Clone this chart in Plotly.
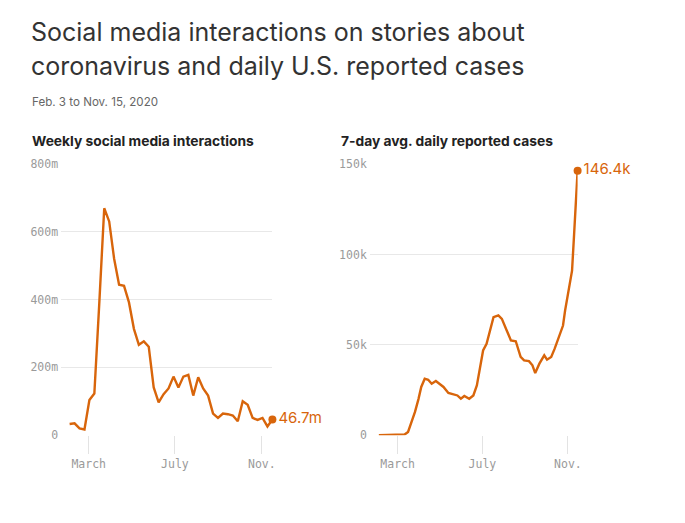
import plotly.graph_objects as go
import pandas as pd

# ---- data ----
social_start = "2020-02-03"
social_values_m = [33, 35, 20, 17, 104, 123, 390, 670, 631, 521, 444, 441, 392, 314,
                   267, 277, 261, 141, 97, 121, 138, 173, 141, 173, 178, 117, 171, 138,
                   117, 64, 51, 64, 62, 58, 41, 100, 90, 51, 45, 51, 26, 46.7]
social_dates = list(pd.date_range(social_start, periods=len(social_values_m), freq="7D"))

case_dates = ["2020-02-03", "2020-03-11", "2020-03-16", "2020-03-20", "2020-03-26", "2020-03-31",
              "2020-04-04", "2020-04-09", "2020-04-14", "2020-04-19", "2020-04-25", "2020-05-01",
              "2020-05-06", "2020-05-13", "2020-05-19", "2020-05-26", "2020-05-31", "2020-06-05",
              "2020-06-12", "2020-06-18", "2020-06-23", "2020-06-27", "2020-07-02", "2020-07-07",
              "2020-07-11", "2020-07-17", "2020-07-24", "2020-07-29", "2020-08-05", "2020-08-11",
              "2020-08-18", "2020-08-25", "2020-08-30", "2020-09-06", "2020-09-11", "2020-09-15",
              "2020-09-21", "2020-09-28", "2020-10-02", "2020-10-08", "2020-10-13", "2020-10-20",
              "2020-10-25", "2020-10-28", "2020-11-02", "2020-11-07", "2020-11-10", "2020-11-13",
              "2020-11-15"]
case_values_k = [0, 0.4, 1.8, 6.4, 12.9, 20, 26.7, 31.3, 30.7, 28.5, 30, 28.2, 26.7, 23.4, 22.6,
                 22, 20.2, 21.7, 20.2, 22, 27.6, 35.9, 46.9, 50.6, 56, 65.3, 66.3, 64.4, 58, 52.5,
                 52, 43.3, 41.4, 41, 38.7, 34.4, 39.6, 44.2, 41.8, 43.3, 47.9, 55.2, 60.7, 69,
                 79.1, 91.1, 111.4, 131.6, 146.4]

left_ticks = [0, 200, 400, 600, 800]
left_ticktext = ["0", "200m", "400m", "600m", "800m"]
right_ticks = [0, 50, 100, 150]
right_ticktext = ["0", "50k", "100k", "150k"]
x_ticks = ["2020-03-01", "2020-07-01", "2020-11-01"]
x_ticktext = ["March", "July", "Nov."]

title_lines = ["Social media interactions on stories about",
               "coronavirus and daily U.S. reported cases"]
subtitle = "Feb. 3 to Nov. 15, 2020"
panel_titles = ["Weekly social media interactions", "7-day avg. daily reported cases"]

ORANGE = "#d8650b"
W, H = 685, 523

fig = go.Figure()
fig.add_trace(go.Scatter(x=social_dates, y=social_values_m, mode="lines",
                         line=dict(color=ORANGE, width=2.4), xaxis="x", yaxis="y",
                         hoverinfo="skip", showlegend=False))
fig.add_trace(go.Scatter(x=[social_dates[-1]], y=[social_values_m[-1]], mode="markers+text",
                         marker=dict(color=ORANGE, size=8), text=[f"{social_values_m[-1]}m"],
                         textposition="middle right",
                         textfont=dict(family="Inter", size=15, color=ORANGE),
                         cliponaxis=False, xaxis="x", yaxis="y", showlegend=False))
fig.add_trace(go.Scatter(x=case_dates, y=case_values_k, mode="lines",
                         line=dict(color=ORANGE, width=2.4), xaxis="x2", yaxis="y2",
                         hoverinfo="skip", showlegend=False))
fig.add_trace(go.Scatter(x=[case_dates[-1]], y=[case_values_k[-1]], mode="markers+text",
                         marker=dict(color=ORANGE, size=8), text=[f"{case_values_k[-1]}k"],
                         textposition="middle right",
                         textfont=dict(family="Inter", size=15, color=ORANGE),
                         cliponaxis=False, xaxis="x2", yaxis="y2", showlegend=False))

tickfont = dict(family="DejaVu Sans Mono", size=11.5, color="#9a9a9a")
ydom = [1 - 440 / H, 1 - 161.5 / H]

xcommon = dict(type="date", tickvals=x_ticks,
               ticktext=x_ticktext, ticks="outside", ticklen=18, tickcolor="#e3e3e3",
               tickwidth=1, showgrid=False, zeroline=False, showline=False,
               tickfont=tickfont, fixedrange=True)
ycommon = dict(showgrid=True, gridcolor="#e8e8e8", gridwidth=1, zeroline=False,
               showline=False, ticks="", tickfont=tickfont, domain=ydom, fixedrange=True,
               ticklabelstandoff=2)

fig.update_layout(
    width=W, height=H, margin=dict(l=0, r=0, t=0, b=0),
    paper_bgcolor="white", plot_bgcolor="white", showlegend=False,
    xaxis=dict(domain=[61.5 / W, 274 / W], anchor="y", range=["2020-01-22", "2020-11-16"], **xcommon),
    xaxis2=dict(domain=[372 / W, 581 / W], anchor="y2", range=["2020-01-21", "2020-11-15"], **xcommon),
    yaxis=dict(range=[0, 800], tickvals=left_ticks, ticktext=left_ticktext, anchor="x", **ycommon),
    yaxis2=dict(range=[0, 150], tickvals=right_ticks, ticktext=right_ticktext, anchor="x2", **ycommon),
)

ann = []
for i, line in enumerate(title_lines):
    ann.append(dict(text=line, x=29 / W, y=1 - (26 + 35 * i) / H, xref="paper", yref="paper",
                    xanchor="left", yanchor="middle", showarrow=False,
                    font=dict(family="Inter", size=25, color="#333333")))
ann.append(dict(text=subtitle, x=30 / W, y=1 - 98 / H, xref="paper", yref="paper",
                xanchor="left", yanchor="middle", showarrow=False,
                font=dict(family="Inter", size=11.6, color="#666666")))
for xpos, t in zip([30, 341], panel_titles):
    ann.append(dict(text=f"<b>{t}</b>", x=xpos / W, y=1 - 138 / H, xref="paper", yref="paper",
                    xanchor="left", yanchor="middle", showarrow=False,
                    font=dict(family="Inter", size=13.8, color="#222222")))
fig.update_layout(annotations=ann)

fig.write_html("out.html")
